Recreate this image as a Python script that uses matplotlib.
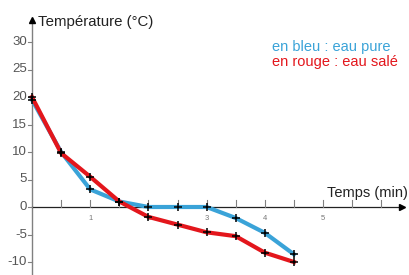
import matplotlib
matplotlib.use("Agg")
import matplotlib.pyplot as plt

# Data
temps = [0, 0.5, 1, 1.5, 2, 2.5, 3, 3.5, 4, 4.5]
eau_pure = [19.5, 10, 3.2, 1, 0, 0, 0, -2, -4.7, -8.6]
eau_salee = [20, 9.8, 5.5, 1, -1.8, -3.2, -4.6, -5.3, -8.3, -10]
x_ticks = [0.5, 1, 1.5, 2, 2.5, 3, 3.5, 4, 4.5, 5, 5.5, 6]
x_labels = ["1", "2", "3", "4", "5"]
y_ticks = [-10, -5, 0, 5, 10, 15, 20, 25, 30]

plt.rcParams['font.family'] = ['Liberation Sans', 'DejaVu Sans']

W, H = 409, 275
fig = plt.figure(figsize=(W / 100, H / 100), dpi=100)
ax = fig.add_axes([0, 0, 1, 1])
ax.set_axis_off()

px_x0, px_unit_x = 32, 58.2
px_y0, px_unit_y = 207, 5.5
ax.set_xlim(-px_x0 / px_unit_x, (W - px_x0) / px_unit_x)
ax.set_ylim(-(H - px_y0) / px_unit_y, px_y0 / px_unit_y)

blue = '#3aa3d8'
red = '#e3161c'
axis_grey = '#808080'

ymin = ax.get_ylim()[0]
ytop = (px_y0 - 20) / px_unit_y
xend = (402 - px_x0) / px_unit_x

# y axis
ax.plot([0, 0], [ymin, ytop], color=axis_grey, lw=1.0, zorder=2)
ax.plot([0], [ytop], marker='^', color='black', ms=4, zorder=3, clip_on=False)
# x axis
ax.plot([0, xend], [0, 0], color='#222222', lw=0.9, zorder=2)
ax.plot([xend], [0], marker='>', color='black', ms=5, zorder=3, clip_on=False)

# ticks
for t in y_ticks:
    ax.plot([-0.07, 0], [t, t], color=axis_grey, lw=0.8)
    ax.text(-0.09, t, str(t), ha='right', va='center', fontsize=9.5,
            color='#555555', family=['Liberation Sans Narrow', 'Liberation Sans'])
for t in x_ticks:
    ax.plot([t, t], [0, 1.2], color=axis_grey, lw=0.8)
for i, lab in enumerate(x_labels):
    ax.text(i + 1, -1.5, lab, ha='center', va='top', fontsize=5.5, color='#777777')

# series
ax.plot(temps, eau_pure, color=blue, lw=3, solid_joinstyle='round', zorder=4)
ax.plot(temps, eau_salee, color=red, lw=3, solid_joinstyle='round', zorder=5)
ax.plot(temps, eau_pure, ls='none', marker='+', color='black', ms=6, mew=1.1, zorder=6)
ax.plot(temps, eau_salee, ls='none', marker='+', color='black', ms=6, mew=1.1, zorder=6)

# labels
ax.text((38 - px_x0) / px_unit_x, (px_y0 - 22) / px_unit_y, 'Température (°C)',
        ha='left', va='center', fontsize=10.8, color='#222222')
ax.text((408 - px_x0) / px_unit_x, (px_y0 - 193) / px_unit_y, 'Temps (min)',
        ha='right', va='center', fontsize=10.5, color='#222222')
ax.text((272 - px_x0) / px_unit_x, (px_y0 - 47) / px_unit_y, 'en bleu : eau pure',
        ha='left', va='center', fontsize=10.5, color=blue)
ax.text((272 - px_x0) / px_unit_x, (px_y0 - 62) / px_unit_y, 'en rouge : eau salé',
        ha='left', va='center', fontsize=10.5, color=red)

fig.savefig('out.png', dpi=100)
